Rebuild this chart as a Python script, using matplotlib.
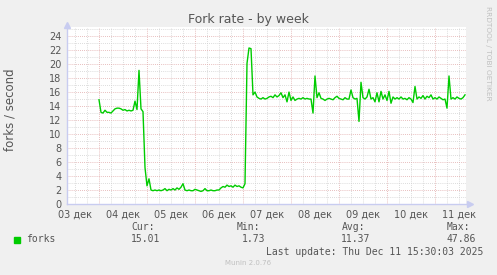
import numpy as np
import matplotlib.pyplot as plt
from matplotlib.patches import Rectangle

# hourly samples starting 04 dec 00:00
forks = [
    14.9, 13.1, 13.0, 13.4, 13.1, 13.1, 13.0, 13.3, 13.6, 13.7, 13.7, 13.6,
    13.4, 13.5, 13.3, 13.4, 13.3, 13.4, 14.7, 13.5, 19.1, 13.6, 13.2, 5.2,
    2.6, 3.6, 2.0, 1.9, 2.0, 1.9, 2.0, 1.9, 2.0, 2.2, 1.9, 2.1,
    2.0, 2.2, 2.0, 2.3, 2.1, 2.4, 2.9, 2.0, 1.9, 2.0, 1.9, 1.9,
    2.1, 2.0, 1.9, 1.8, 1.9, 2.2, 1.9, 1.9, 2.0, 1.9, 1.9, 2.0,
    2.0, 2.3, 2.5, 2.4, 2.7, 2.5, 2.6, 2.4, 2.7, 2.5, 2.6, 2.4,
    2.3, 2.9, 20.1, 22.3, 22.2, 15.6, 16.0, 15.3, 15.1, 15.0, 15.2, 15.0,
    15.1, 15.3, 15.4, 15.2, 15.6, 15.3, 15.5, 15.9, 15.2, 15.6, 14.6, 16.0,
    14.8, 15.3, 14.8, 15.0, 15.1, 15.0, 15.2, 15.0, 15.1, 15.0, 15.0, 13.0,
    18.3, 15.2, 15.9, 15.1, 15.0, 14.8, 15.0, 15.1, 15.0, 14.9, 15.2, 15.4,
    15.1, 15.0, 14.9, 15.2, 15.0, 15.0, 16.3, 15.2, 15.0, 15.1, 11.8, 17.4,
    15.2, 15.0, 15.3, 16.4, 15.0, 15.2, 14.6, 15.9, 14.6, 16.1, 15.0, 15.6,
    14.8, 16.1, 14.4, 15.3, 15.0, 15.2, 15.0, 15.3, 15.0, 15.1, 14.9, 15.2,
    15.0, 14.5, 16.8, 15.0, 15.3, 15.1, 15.5, 15.0, 15.4, 15.2, 15.6, 15.0,
    15.2, 15.0, 15.3, 15.1, 14.9, 15.0, 13.7, 18.3, 15.0, 15.2, 15.0, 15.3,
    15.1, 15.0, 15.2, 15.6,
]
hours = np.arange(len(forks))

day_labels = ['03 дек', '04 дек', '05 дек', '06 дек', '07 дек',
              '08 дек', '09 дек', '10 дек', '11 дек']
stat_names = ['Cur:', 'Min:', 'Avg:', 'Max:']
stat_values = ['15.01', '1.73', '11.37', '47.86']

txt = '#555555'
fig = plt.figure(figsize=(4.97, 2.75), dpi=100)
fig.patch.set_facecolor('#f0f0f0')
ax = fig.add_axes([67 / 497, 71 / 275, 399 / 497, 177 / 275])
ax.set_facecolor('white')

# grid (rrdtool style)
for h in np.arange(-12, 184, 6):
    if h % 24 == 0:
        ax.axvline(h, color='#e0a8a8', lw=0.6, ls=(0, (1, 1.5)), zorder=1)
    else:
        ax.axvline(h, color='#d0d0d0', lw=0.6, ls=(0, (1, 1.5)), zorder=1)
for v in range(1, 26):
    c = '#e0a8a8' if v % 2 == 0 else '#d0d0d0'
    ax.axhline(v, color=c, lw=0.6, ls=(0, (1, 1.5)), zorder=1)

ax.plot(hours, forks, color='#00cc00', lw=1.0, zorder=3)

ax.set_xlim(-16, 183.5)
ax.set_ylim(0, 25.3)
ax.set_yticks(range(0, 25, 2))
ax.set_xticks(np.arange(-12, 184, 24))
ax.set_xticklabels(day_labels)
ax.tick_params(axis='both', length=0, labelsize=7, colors=txt, pad=4)
for s in ['top', 'right']:
    ax.spines[s].set_visible(False)
for s in ['left', 'bottom']:
    ax.spines[s].set_color('#c8ccf0')
    ax.spines[s].set_linewidth(1.0)
ax.plot([1.01], [0], marker='>', color='#c8ccf0', ms=5, transform=ax.transAxes,
        clip_on=False)
ax.plot([0], [1.01], marker='^', color='#c8ccf0', ms=5, transform=ax.transAxes,
        clip_on=False)

fig.text(10 / 497, 1 - 110 / 275, 'forks / second', rotation=90, ha='center',
         va='center', fontsize=8.5, color=txt)
fig.text(0.5, 1 - 19 / 275, 'Fork rate - by week', ha='center', va='center',
         fontsize=9, color=txt)
fig.text(488 / 497, 1 - 53 / 275, 'RRDTOOL / TOBI OETIKER', rotation=270,
         ha='center', va='center', fontsize=5.3, color='#c0c0c0')

# legend area
mono = 'DejaVu Sans Mono'
fig.patches.append(Rectangle((14 / 497, 1 - 242.5 / 275), 6 / 497, 6 / 275,
                             transform=fig.transFigure, color='#00cc00'))
fig.text(26 / 497, 1 - 239.5 / 275, 'forks', family=mono, fontsize=7,
         color=txt, va='center')
for i, (n, v) in enumerate(zip(stat_names, stat_values)):
    x0 = (131.5 + i * 105) / 497
    fig.text(x0, 1 - 227 / 275, n, family=mono, fontsize=7, color=txt,
             va='center')
    fig.text(x0 + 29 / 497, 1 - 239.5 / 275, v, family=mono, fontsize=7,
             color=txt, va='center', ha='right')
fig.text(483 / 497, 1 - 252 / 275, 'Last update: Thu Dec 11 15:30:03 2025',
         family=mono, fontsize=7, color=txt, va='center', ha='right')
fig.text(248 / 497, 1 - 263 / 275, 'Munin 2.0.76', fontsize=5, color='#c0c0c0',
         ha='center', va='center')

fig.savefig('out.png', dpi=100, facecolor=fig.get_facecolor())
